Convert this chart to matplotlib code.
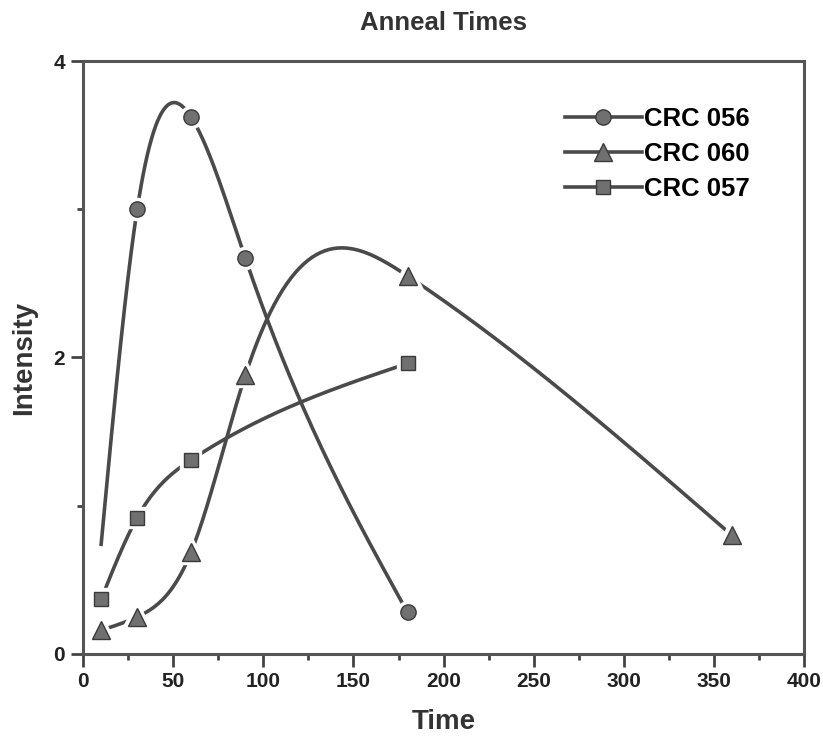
import numpy as np
import matplotlib
matplotlib.use("Agg")
from matplotlib import pyplot as plt
from matplotlib.lines import Line2D

plt.rcParams['font.family'] = ['Liberation Sans', 'DejaVu Sans']
plt.rcParams['font.weight'] = 'bold'

# data
t_056 = [10, 30, 60, 90, 180]
i_056 = [0.74, 3.0, 3.62, 2.67, 0.28]
t_060 = [10, 30, 60, 90, 180, 360]
i_060 = [0.16, 0.25, 0.69, 1.88, 2.55, 0.80]
t_057 = [10, 30, 60, 180]
i_057 = [0.37, 0.92, 1.31, 1.96]
labels = ['CRC 056', 'CRC 060', 'CRC 057']


def spline(x, y, n=300):
    # natural cubic spline, used only for the smooth connecting line
    x = np.asarray(x, float)
    y = np.asarray(y, float)
    k = len(x)
    h = np.diff(x)
    A = np.zeros((k, k))
    r = np.zeros(k)
    A[0, 0] = 1
    A[-1, -1] = 1
    for i in range(1, k - 1):
        A[i, i-1] = h[i-1]
        A[i, i] = 2*(h[i-1] + h[i])
        A[i, i+1] = h[i]
        r[i] = 6*((y[i+1]-y[i])/h[i] - (y[i]-y[i-1])/h[i-1])
    m = np.linalg.solve(A, r)
    xs = np.linspace(x[0], x[-1], n)
    j = np.clip(np.searchsorted(x, xs) - 1, 0, k - 2)
    a = x[j+1] - xs
    b = xs - x[j]
    hj = h[j]
    ys = (m[j]*a**3 + m[j+1]*b**3)/(6*hj) + (y[j]/hj - m[j]*hj/6)*a + (y[j+1]/hj - m[j+1]*hj/6)*b
    return xs, ys


fig = plt.figure(figsize=(8.23, 7.44), dpi=100)
ax = fig.add_axes([0.101, 0.121, 0.876, 0.797])

lc = '#4a4a4a'
mc = '#707070'
series = [(t_056, i_056, 'o', 11, 1), (t_060, i_060, '^', 13, 0), (t_057, i_057, 's', 10, 0)]
handles = []
for (tx, iy, mk, ms, skip) in series:
    xs, ys = spline(tx, iy)
    ax.plot(xs, ys, color=lc, lw=2.6, zorder=2)
    ax.plot(tx[skip:], iy[skip:], mk, ms=ms, color=mc, mec='white', mew=6, zorder=3)
    ax.plot(tx[skip:], iy[skip:], mk, ms=ms, color=mc, mec='#3a3a3a', mew=1.0, zorder=4)
    handles.append(Line2D([], [], color=lc, lw=2.6, marker=mk, ms=ms, mfc=mc, mec='#3a3a3a'))

ax.legend(handles, labels, loc='upper left', bbox_to_anchor=(0.668, 0.922), frameon=False,
          prop={'size': 18.5, 'weight': 'bold'}, handlelength=3.0, handletextpad=0.1,
          labelspacing=0.42, borderpad=0, borderaxespad=0)

ax.set_xlim(0, 400)
ax.set_ylim(0, 4)
ax.set_xticks(np.arange(0, 401, 50))
ax.set_xticks(np.arange(25, 400, 50), minor=True)
ax.set_yticks([0, 2, 4])
ax.set_yticks([1, 3], minor=True)
ax.tick_params(which='major', length=9, width=2, color='#444444', labelsize=15, labelcolor='#222222', pad=4)
ax.tick_params(which='minor', length=4, width=2, color='#444444')
for lab in ax.get_xticklabels() + ax.get_yticklabels():
    lab.set_fontweight('bold')
for s in ax.spines.values():
    s.set_linewidth(2.2)
    s.set_color('#555555')

ax.set_title('Anneal Times', fontsize=18.5, fontweight='bold', color='#333333', pad=22)
ax.set_xlabel('Time', fontsize=20, fontweight='bold', color='#333333', labelpad=13)
ax.set_ylabel('Intensity', fontsize=20, fontweight='bold', color='#333333', labelpad=12)

fig.savefig('out.png', dpi=100)
